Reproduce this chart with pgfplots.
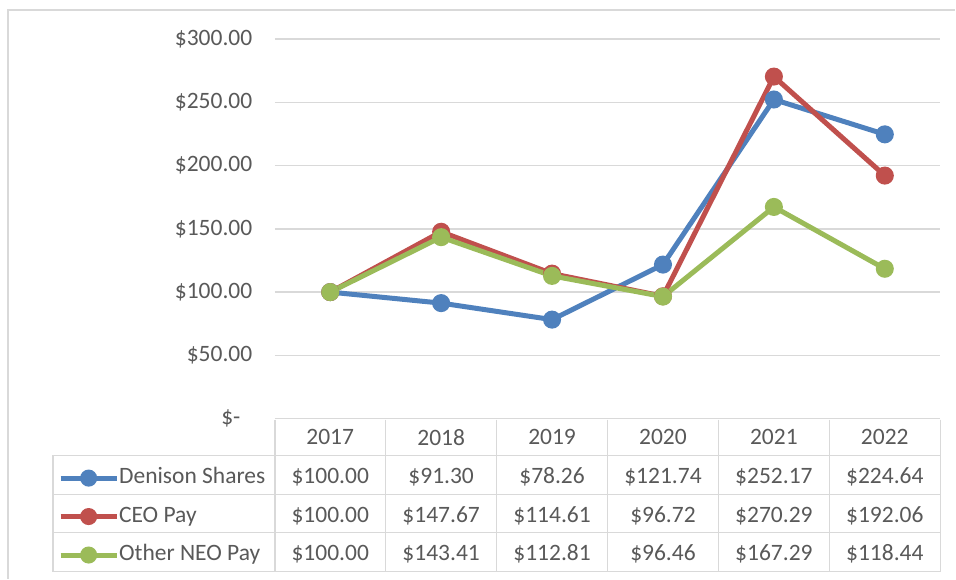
\documentclass[border=0pt]{standalone}
\usepackage{pgfplots}
\pgfplotsset{compat=1.18}
\usepackage{fontspec}
\setmainfont{Carlito}
\definecolor{sblue}{HTML}{4F81BD}
\definecolor{sred}{HTML}{C0504D}
\definecolor{sgreen}{HTML}{9BBB59}
\definecolor{txt}{HTML}{595959}
\definecolor{gridc}{HTML}{D9D9D9}
\newcommand{\fs}{\fontsize{23.5}{28}\selectfont}
\begin{document}
\begin{tikzpicture}[x=1pt,y=1pt]
\fill[white] (0,0) rectangle (956,-579);
\draw[gridc, line width=1.5pt] (8,-579) -- (8,-10) -- (956,-10);
\begin{axis}[
  at={(275pt,-419pt)}, anchor=south west,
  scale only axis, width=666pt, height=380pt,
  xmin=-0.5, xmax=5.5, ymin=0, ymax=300,
  xtick={0,1,2,3,4,5}, xticklabels={2017,2018,2019,2020,2021,2022},
  ytick={0,50,100,150,200,250,300},
  yticklabels={\$-\phantom{0},\$50.00,\$100.00,\$150.00,\$200.00,\$250.00,\$300.00},
  axis line style={draw=none}, major tick length=0pt,
  ymajorgrids, grid style={gridc, line width=1.5pt},
  tick label style={font=\fs, text=txt},
  yticklabel style={xshift=-19pt},
  xticklabel style={anchor=center, yshift=-18.5pt},
  clip=false,
  every axis plot/.append style={line width=5pt, mark=*, mark size=6.5pt},
  legend image code/.code={\draw[mark repeat=2,mark phase=2,mark size=6pt] plot coordinates {(0pt,0pt) (28pt,0pt) (56pt,0pt)};},
  legend cell align=left,
  legend style={at={(-0.3258,-0.1053)}, anchor=north west, draw=none, fill=none,
    inner sep=0pt, font=\fs, text=txt, row sep=0pt,
    nodes={inner sep=0pt, text height=16pt, text depth=5pt, minimum height=38.5pt},
    /tikz/column 1/.style={column sep=0pt}},
]
\addplot[sblue] coordinates {(0,100) (1,91.30) (2,78.26) (3,121.74) (4,252.17) (5,224.64)};
\addlegendentry{Denison Shares}
\addplot[sred] coordinates {(0,100) (1,147.67) (2,114.61) (3,96.72) (4,270.29) (5,192.06)};
\addlegendentry{CEO Pay}
\addplot[sgreen] coordinates {(0,100) (1,143.41) (2,112.81) (3,96.46) (4,167.29) (5,118.44)};
\addlegendentry{Other NEO Pay}
\end{axis}
\begin{scope}[gridc, line width=1.5pt]
\draw (53,-456) rectangle (941,-572);
\draw (53,-495) -- (941,-495);
\draw (53,-533) -- (941,-533);
\foreach \xx in {275,386,497,608,719,830,941} \draw (\xx,-420) -- (\xx,-572);
\end{scope}
\begin{scope}[every node/.style={font=\fs, text=txt, inner sep=0pt, anchor=base}]
\foreach \xx/\a/\b/\c in {330.5/100.00/100.00/100.00, 441.5/91.30/147.67/143.41, 552.5/78.26/114.61/112.81, 663.5/121.74/96.72/96.46, 774.5/252.17/270.29/167.29, 885.5/224.64/192.06/118.44}{
  \node at (\xx,-484) {\$\a};
  \node at (\xx,-522.5) {\$\b};
  \node at (\xx,-561) {\$\c};
}
\end{scope}
\end{tikzpicture}
\end{document}
